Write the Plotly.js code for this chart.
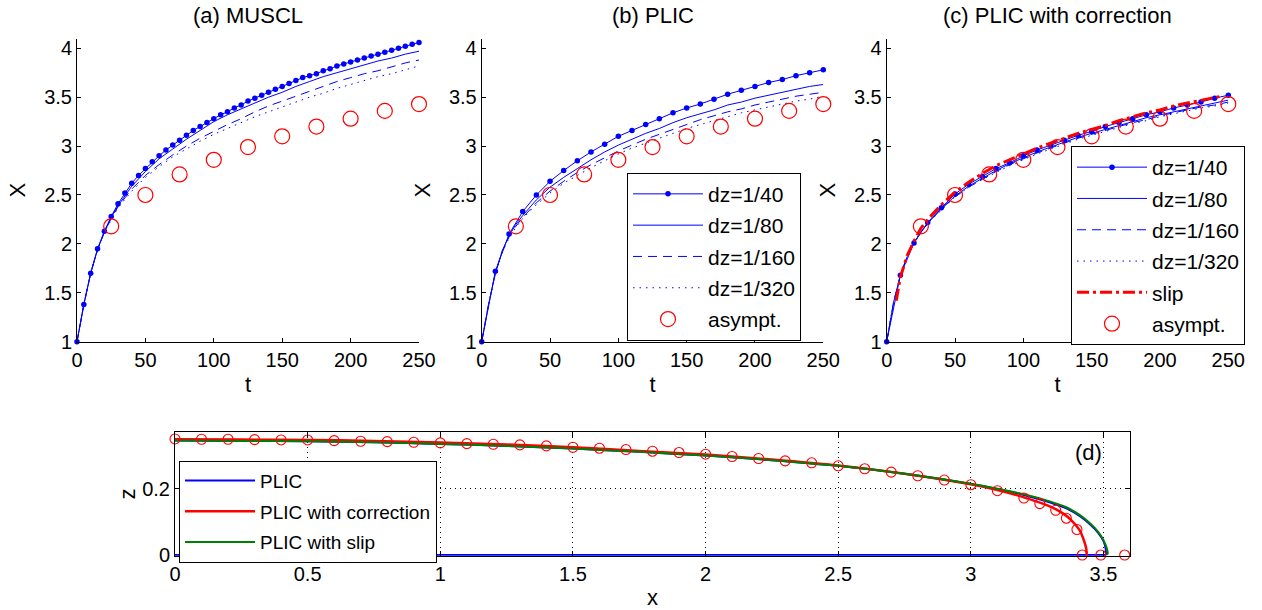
<!DOCTYPE html>
<html><head><meta charset="utf-8">
<script src="https://cdn.plot.ly/plotly-3.0.1.min.js"></script>
<style>html,body{margin:0;padding:0;background:#fff}#chart{width:1262px;height:610px}</style>
</head><body><div id="chart"></div>
<script>
// ---------- data: panels (a)-(c), X versus t ----------
const tStep5 = [0,5,10,15,20,25,30,35,40,45,50,55,60,65,70,75,80,85,90,95,100,105,110,115,120,125,130,135,140,145,150,155,160,165,170,175,180,185,190,195,200,205,210,215,220,225,230,235,240,245,250];
const tStep10 = [0,10,20,30,40,50,60,70,80,90,100,110,120,130,140,150,160,170,180,190,200,210,220,230,240,250];
const tLine = [0,5,10,15,20,25,30,40,50,60,70,80,90,100,110,120,130,140,150,160,170,180,190,200,210,220,230,240,250];

// (a) MUSCL
const a40 = [1.00,1.38,1.70,1.95,2.13,2.28,2.41,2.52,2.62,2.70,2.77,2.84,2.90,2.96,3.01,3.06,3.11,3.16,3.20,3.24,3.28,3.32,3.35,3.39,3.42,3.46,3.49,3.52,3.55,3.58,3.61,3.64,3.67,3.70,3.72,3.74,3.77,3.79,3.82,3.84,3.86,3.88,3.90,3.92,3.94,3.96,3.98,4.00,4.02,4.04,4.06];
const a80 = [1.00,1.38,1.70,1.94,2.12,2.27,2.39,2.59,2.74,2.87,2.97,3.07,3.16,3.25,3.32,3.38,3.44,3.50,3.55,3.61,3.66,3.71,3.75,3.79,3.83,3.87,3.90,3.94,3.97];
const a160 = [1.00,1.38,1.70,1.94,2.12,2.26,2.38,2.56,2.70,2.81,2.91,3.00,3.08,3.15,3.22,3.28,3.35,3.41,3.46,3.51,3.56,3.61,3.66,3.70,3.74,3.77,3.81,3.85,3.88];
const a320 = [1.00,1.38,1.70,1.94,2.12,2.25,2.37,2.54,2.68,2.79,2.89,2.97,3.05,3.12,3.18,3.24,3.30,3.35,3.40,3.45,3.50,3.54,3.59,3.63,3.67,3.71,3.74,3.78,3.82];

// (b) PLIC
const b40 = [1.00,1.72,2.10,2.33,2.50,2.64,2.75,2.85,2.94,3.02,3.10,3.16,3.22,3.28,3.34,3.39,3.43,3.48,3.53,3.57,3.61,3.65,3.68,3.72,3.75,3.78];
const b80 = [1.00,1.38,1.70,1.93,2.08,2.20,2.29,2.45,2.58,2.68,2.77,2.86,2.94,3.01,3.07,3.13,3.18,3.24,3.29,3.33,3.37,3.42,3.45,3.49,3.52,3.55,3.58,3.61,3.63];
const b160 = [1.00,1.38,1.70,1.92,2.07,2.18,2.27,2.42,2.54,2.64,2.73,2.81,2.88,2.95,3.01,3.07,3.12,3.17,3.22,3.27,3.31,3.35,3.38,3.42,3.45,3.48,3.51,3.53,3.55];
const b320 = [1.00,1.38,1.70,1.92,2.06,2.17,2.26,2.40,2.52,2.62,2.70,2.78,2.85,2.92,2.98,3.03,3.08,3.13,3.18,3.22,3.26,3.30,3.34,3.37,3.40,3.43,3.46,3.48,3.51];

// (c) PLIC with correction
const c40 = [1.00,1.68,2.01,2.22,2.37,2.51,2.61,2.69,2.77,2.83,2.90,2.96,3.01,3.06,3.11,3.15,3.20,3.24,3.28,3.32,3.35,3.39,3.42,3.45,3.49,3.52];
const c80 = [1.00,1.40,1.68,1.87,2.01,2.12,2.21,2.36,2.49,2.59,2.67,2.75,2.82,2.88,2.94,2.99,3.04,3.09,3.13,3.17,3.21,3.25,3.29,3.32,3.35,3.38,3.41,3.44,3.47];
const c160 = [1.00,1.40,1.68,1.87,2.01,2.12,2.21,2.36,2.48,2.58,2.66,2.74,2.81,2.87,2.93,2.98,3.03,3.08,3.12,3.16,3.20,3.24,3.27,3.31,3.34,3.37,3.40,3.42,3.45];
const c320 = [1.00,1.40,1.68,1.87,2.01,2.12,2.21,2.35,2.48,2.58,2.66,2.73,2.80,2.86,2.92,2.97,3.02,3.07,3.11,3.15,3.19,3.23,3.26,3.30,3.33,3.36,3.39,3.41,3.44];
const tSlip = [7,10,15,20,25,30,40,50,60,70,80,90,100,110,120,130,140,150,160,170,180,190,200,210,220,230,240,245];
const cSlip = [1.42,1.66,1.88,2.03,2.16,2.25,2.40,2.53,2.63,2.72,2.80,2.86,2.92,2.98,3.03,3.08,3.13,3.17,3.21,3.26,3.30,3.34,3.37,3.41,3.44,3.47,3.50,3.51];

// asymptotic solution (same in a, b, c)
const tAsym = [25,50,75,100,125,150,175,200,225,250];
const xAsym = [2.18,2.50,2.71,2.86,2.99,3.10,3.20,3.28,3.36,3.43];

// ---------- data: panel (d), drop shape z versus x ----------
const dXplic = [0,0.25,0.5,0.75,1.0,1.25,1.5,1.75,2.0,2.25,2.5,2.75,3.0,3.1,3.2,3.3,3.36,3.41,3.45,3.48,3.50,3.508,3.51];
const dZplic = [0.345,0.344,0.343,0.340,0.335,0.329,0.321,0.311,0.300,0.286,0.269,0.245,0.214,0.199,0.181,0.158,0.141,0.118,0.092,0.067,0.042,0.020,0.0];
const dXplicBase = [3.51,3.0,2.0,1.0,0];
const dZplicBase = [0,0,0,0,0];
const dXcorr = [0,0.25,0.5,0.75,1.0,1.25,1.5,1.75,2.0,2.25,2.5,2.75,3.0,3.1,3.2,3.3,3.35,3.38,3.41,3.425,3.435,3.437];
const dZcorr = [0.349,0.348,0.347,0.344,0.339,0.333,0.325,0.314,0.303,0.288,0.270,0.245,0.213,0.196,0.174,0.146,0.124,0.104,0.075,0.047,0.020,0.0];
const dXslip = [0,0.25,0.5,0.75,1.0,1.25,1.5,1.75,2.0,2.25,2.5,2.75,3.0,3.1,3.2,3.3,3.36,3.41,3.45,3.48,3.50,3.512,3.516,3.514];
const dZslip = [0.345,0.344,0.343,0.340,0.335,0.329,0.321,0.311,0.300,0.286,0.269,0.245,0.215,0.200,0.183,0.161,0.144,0.121,0.095,0.070,0.045,0.022,0.008,0.0];
const dXasym = [0,0.1,0.2,0.3,0.4,0.5,0.6,0.7,0.8,0.9,1.0,1.1,1.2,1.3,1.4,1.5,1.6,1.7,1.8,1.9,2.0,2.1,2.2,2.3,2.4,2.5,2.6,2.7,2.8,2.9,3.0,3.1,3.2,3.26,3.32,3.36,3.40,3.42,3.49,3.58];
const dZasym = [0.350,0.349,0.349,0.348,0.347,0.347,0.345,0.343,0.342,0.340,0.338,0.336,0.334,0.332,0.329,0.325,0.322,0.318,0.313,0.309,0.304,0.297,0.291,0.284,0.278,0.269,0.260,0.250,0.239,0.226,0.212,0.194,0.172,0.155,0.135,0.111,0.077,0,0,0];

const legendNames = ['dz=1/40','dz=1/80','dz=1/160','dz=1/320','slip','asympt.'];
const subTitles = ['(a) MUSCL','(b) PLIC','(c) PLIC with correction'];
const dNames = ['PLIC','PLIC with correction','PLIC with slip'];

// ---------- styles ----------
const FONT = 'Liberation Sans, Arial, Helvetica, sans-serif';
const BLUE = '#0000ff', RED = '#ff0000', GREEN = '#008000';
const DASH = '9px,6px', DOT = '1.5px,5px', DASHDOT = '12px,4px,3px,4px';
const TICK = 20, TITLE = 22;

const traces = [];
function panel(ax, t40, y40, y80, y160, y320, slip, legendId) {
  const xa = 'x' + ax, ya = 'y' + ax;
  const show = !!legendId;
  const common = {xaxis: xa, yaxis: ya, legend: legendId || 'legend', showlegend: show, cliponaxis: false};
  traces.push(Object.assign({x: t40, y: y40, name: legendNames[0], legendgroup: ax + 'g1', mode: 'lines+markers',
    line: {color: BLUE, width: 1}, marker: {color: BLUE, size: 5.5}}, common));
  traces.push(Object.assign({x: tLine, y: y80, name: legendNames[1], legendgroup: ax + 'g2', mode: 'lines',
    line: {color: BLUE, width: 1}}, common));
  traces.push(Object.assign({x: tLine, y: y160, name: legendNames[2], legendgroup: ax + 'g3', mode: 'lines',
    line: {color: BLUE, width: 1, dash: DASH}}, common));
  traces.push(Object.assign({x: tLine, y: y320, name: legendNames[3], legendgroup: ax + 'g4', mode: 'lines',
    line: {color: BLUE, width: 1, dash: DOT}}, common));
  if (slip) {
    traces.push(Object.assign({x: tSlip, y: slip, name: legendNames[4], legendgroup: ax + 'g5', mode: 'lines',
      line: {color: RED, width: 3, dash: DASHDOT}}, common));
  }
  traces.push(Object.assign({x: tAsym, y: xAsym, name: legendNames[5], legendgroup: ax + 'g6', mode: 'markers',
    marker: {symbol: 'circle-open', color: RED, size: 15, line: {width: 1.2, color: RED}}}, common));
}
panel('', tStep5, a40, a80, a160, a320, null, null);
panel('2', tStep10, b40, b80, b160, b320, null, 'legend');
panel('3', tStep10, c40, c80, c160, c320, cSlip, 'legend2');

const dCommon = {xaxis: 'x4', yaxis: 'y4', legend: 'legend3', mode: 'lines'};
traces.push(Object.assign({x: dXplicBase, y: dZplicBase, showlegend: false, legendgroup: 'd1', line: {color: BLUE, width: 2}}, dCommon));
traces.push(Object.assign({x: dXplic, y: dZplic, name: dNames[0], legendgroup: 'd1', line: {color: BLUE, width: 2, shape: 'spline', smoothing: 0.8}}, dCommon));
traces.push(Object.assign({x: dXcorr, y: dZcorr, name: dNames[1], legendgroup: 'd2', line: {color: RED, width: 2.5, shape: 'spline', smoothing: 0.8}}, dCommon));
traces.push(Object.assign({x: dXslip, y: dZslip, name: dNames[2], legendgroup: 'd3', line: {color: GREEN, width: 2, shape: 'spline', smoothing: 0.8}}, dCommon));
traces.push({x: dXasym, y: dZasym, xaxis: 'x4', yaxis: 'y4', mode: 'markers', showlegend: false, cliponaxis: false,
  marker: {symbol: 'circle-open', color: RED, size: 10, line: {width: 1.1, color: RED}}});

// ---------- layout ----------
const W = 1262, H = 610;
const px = v => v / W, py = v => 1 - v / H;
function tAxis(domain, anchor) {
  return {domain: domain, anchor: anchor, range: [0, 250], tickvals: [0,50,100,150,200,250],
    ticks: 'inside', ticklen: 4, tickcolor: '#000', showline: true, linecolor: '#000', linewidth: 1,
    showgrid: false, zeroline: false, tickfont: {family: FONT, size: TICK, color: '#000'},
    title: {text: 't', font: {family: FONT, size: TITLE, color: '#000'}, standoff: 6}};
}
function xAxisY(domain, anchor) {
  return {domain: domain, anchor: anchor, range: [1, 4.1], tick0: 1, dtick: 0.5,
    ticks: 'inside', ticklen: 4, tickcolor: '#000', showline: true, linecolor: '#000', linewidth: 1,
    showgrid: false, zeroline: false, tickfont: {family: FONT, size: TICK, color: '#000'},
    title: {text: 'X', font: {family: FONT, size: TITLE, color: '#000'}, standoff: 12}};
}
const yTop = [py(341.7), py(38.5)];
function legendBox(x, y, xanchor, yanchor, size, gap, itemwidth) {
  return {x: x, y: y, xanchor: xanchor, yanchor: yanchor, xref: 'paper', yref: 'paper',
    bgcolor: '#fff', bordercolor: '#000', borderwidth: 1, tracegroupgap: gap, itemwidth: itemwidth,
    font: {family: FONT, size: size, color: '#000'}};
}
function label(text, x, y) {
  return {text: text, x: px(x), y: py(y), xref: 'paper', yref: 'paper', xanchor: 'center', yanchor: 'middle',
    showarrow: false, font: {family: FONT, size: TITLE, color: '#000'}};
}
const layout = {
  width: W, height: H, margin: {l: 0, r: 0, t: 0, b: 0},
  paper_bgcolor: '#fff', plot_bgcolor: '#fff',
  font: {family: FONT, color: '#000'},
  xaxis: tAxis([px(77), px(419)], 'y'),
  yaxis: xAxisY(yTop, 'x'),
  xaxis2: tAxis([px(481.7), px(823.3)], 'y2'),
  yaxis2: xAxisY(yTop, 'x2'),
  xaxis3: tAxis([px(886.7), px(1228.3)], 'y3'),
  yaxis3: xAxisY(yTop, 'x3'),
  xaxis4: {domain: [px(175), px(1130)], anchor: 'y4', range: [0, 3.6], tick0: 0, dtick: 0.5,
    ticks: 'inside', ticklen: 5, tickcolor: '#000', showline: true, mirror: 'ticks', linecolor: '#000', linewidth: 1,
    showgrid: true, gridcolor: '#000', gridwidth: 1, griddash: '1px,4px', zeroline: false,
    tickfont: {family: FONT, size: TICK, color: '#000'},
    title: {text: 'x', font: {family: FONT, size: TITLE, color: '#000'}, standoff: 5}},
  yaxis4: {domain: [py(555.7), py(432.3)], anchor: 'x4', range: [-0.002, 0.37], tickvals: [0, 0.2],
    ticks: 'inside', ticklen: 5, tickcolor: '#000', showline: true, mirror: 'ticks', linecolor: '#000', linewidth: 1,
    showgrid: true, gridcolor: '#000', gridwidth: 1, griddash: '1px,4px', zeroline: false,
    tickfont: {family: FONT, size: TICK, color: '#000'},
    title: {text: 'z', font: {family: FONT, size: TITLE, color: '#000'}, standoff: 0}},
  legend: legendBox(px(801), py(340.7), 'right', 'bottom', 21, 1, 70),
  legend2: legendBox(px(1245), py(345), 'right', 'bottom', 21, 1, 70),
  legend3: legendBox(px(179), py(460.7), 'left', 'top', 19, 3, 70),
  showlegend: true,
  annotations: [
    label(subTitles[0], 248, 15),
    label(subTitles[1], 652.5, 15),
    label(subTitles[2], 1057.5, 15),
    label('(d)', 1088, 452)
  ]
};
Plotly.newPlot('chart', traces, layout, {displayModeBar: false, staticPlot: true});
</script></body></html>
